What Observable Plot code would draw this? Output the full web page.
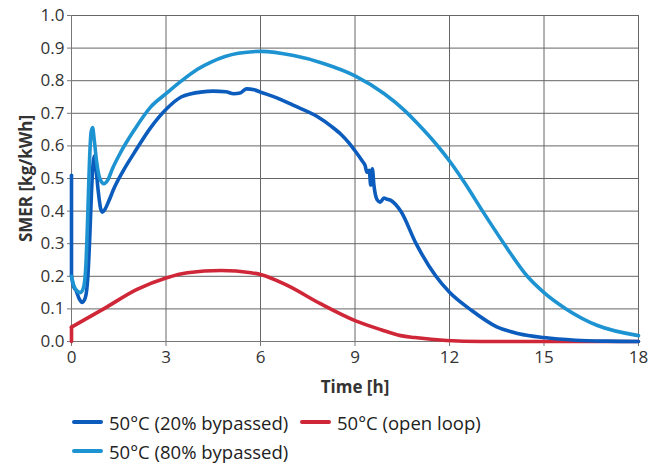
<!DOCTYPE html>
<html>
<head>
<meta charset="utf-8">
<script src="https://cdn.jsdelivr.net/npm/d3@7"></script>
<script src="https://cdn.jsdelivr.net/npm/@observablehq/plot@0.6"></script>
<style>
  body { margin: 0; background: #fff; }
  #chart { position: relative; width: 661px; height: 464px; font-family: "Open Sans", sans-serif; }
  #chart svg { position: absolute; left: 0; top: 0; }
  #chart g[aria-label="x-axis label"] text,
  #chart g[aria-label="y-axis label"] text { font-weight: bold; }
  .legend-item { position: absolute; display: flex; align-items: center; font-size: 18.5px; color: #222; white-space: nowrap; }
  .legend-item .swatch { width: 31px; height: 4px; border-radius: 2px; margin-right: 6px; }
</style>
</head>
<body>
<div id="chart"></div>
<script>
// Time axis [h] and SMER axis [kg/kWh] ticks
const xTicks = [0, 3, 6, 9, 12, 15, 18];
const yTicks = [0, 0.1, 0.2, 0.3, 0.4, 0.5, 0.6, 0.7, 0.8, 0.9, 1.0];

// 50°C (20% bypassed) — the first two samples are the step at start-up
const time20 = [0, 0, 0.06, 0.14, 0.25, 0.34, 0.44, 0.52, 0.58, 0.64, 0.69, 0.73, 0.78, 0.85, 0.92, 0.98, 1.06, 1.18, 1.35, 1.65, 1.98, 2.52, 3.02, 3.48, 3.8, 4.1, 4.5, 4.9, 5.15, 5.35, 5.55, 5.8, 6.0, 6.5, 7.05, 7.8, 8.25, 8.56, 8.8, 9.0, 9.22, 9.32, 9.38, 9.45, 9.5, 9.55, 9.6, 9.7, 9.8, 9.92, 10.0, 10.15, 10.45, 10.94, 11.57, 12.0, 12.68, 13.5, 14.2, 15.0, 16.0, 17.0, 18.0];
const smer20 = [0.51, 0.2, 0.17, 0.157, 0.13, 0.12, 0.135, 0.2, 0.32, 0.47, 0.55, 0.57, 0.53, 0.46, 0.41, 0.397, 0.405, 0.43, 0.47, 0.525, 0.577, 0.657, 0.714, 0.75, 0.76, 0.765, 0.768, 0.766, 0.760, 0.762, 0.775, 0.772, 0.765, 0.748, 0.724, 0.69, 0.66, 0.635, 0.61, 0.585, 0.555, 0.54, 0.519, 0.525, 0.48, 0.53, 0.48, 0.435, 0.427, 0.44, 0.437, 0.432, 0.40, 0.30, 0.20, 0.151, 0.097, 0.045, 0.024, 0.012, 0.004, 0.001, 0];

// 50°C (80% bypassed)
const time80 = [0, 0.08, 0.18, 0.28, 0.38, 0.46, 0.52, 0.57, 0.62, 0.67, 0.72, 0.8, 0.9, 1.03, 1.15, 1.3, 1.56, 1.98, 2.51, 3.0, 3.5, 4.0, 4.43, 5.29, 6.02, 7.05, 8.0, 9.0, 9.93, 10.57, 11.0, 11.58, 12.03, 12.48, 13.05, 13.73, 14.47, 15.0, 15.7, 16.7, 18.0];
const smer80 = [0.2, 0.17, 0.155, 0.15, 0.165, 0.24, 0.4, 0.55, 0.64, 0.656, 0.62, 0.55, 0.5, 0.484, 0.495, 0.53, 0.58, 0.647, 0.719, 0.76, 0.80, 0.835, 0.857, 0.884, 0.89, 0.877, 0.853, 0.815, 0.76, 0.709, 0.667, 0.605, 0.55, 0.487, 0.40, 0.30, 0.20, 0.15, 0.10, 0.049, 0.018];

// 50°C (open loop) — also starts with a step at t = 0
const timeOpen = [0, 0, 1.02, 2.08, 3.0, 3.68, 4.75, 5.7, 6.03, 6.85, 7.9, 9.0, 9.83, 10.45, 10.9, 11.9, 13.0, 18.0];
const smerOpen = [0, 0.044, 0.10, 0.16, 0.195, 0.211, 0.218, 0.211, 0.205, 0.172, 0.116, 0.064, 0.036, 0.018, 0.012, 0.003, 0, 0];

const seriesNames = ["50°C (20% bypassed)", "50°C (open loop)", "50°C (80% bypassed)"];
const seriesColors = ["#0b5cbd", "#cf2738", "#1e93d2"];

const toRows = (ts, vs) => ts.map((t, i) => ({t, v: vs[i]}));
const rows20 = toRows(time20, smer20);
const rows80 = toRows(time80, smer80);
const rowsOpen = toRows(timeOpen, smerOpen);

const lineOpts = (color, curve = "monotone-x") => ({x: "t", y: "v", stroke: color, strokeWidth: 3.6, curve, strokeLinejoin: "round", strokeLinecap: "round"});

const plot = Plot.plot({
  width: 661,
  height: 400,
  marginLeft: 71,
  marginRight: 23,
  marginTop: 15,
  marginBottom: 59,
  style: {fontFamily: "Open Sans, sans-serif", fontSize: "17px", color: "#333", background: "#fff"},
  x: {domain: [0, 18]},
  y: {domain: [0, 1]},
  marks: [
    Plot.gridX(xTicks, {stroke: "#666", strokeOpacity: 1, strokeWidth: 1}),
    Plot.gridY(yTicks, {stroke: "#666", strokeOpacity: 1, strokeWidth: 1}),
    Plot.ruleY([0], {stroke: "#777", strokeWidth: 1}),
    Plot.ruleX([0], {stroke: "#777", strokeWidth: 1}),
    Plot.axisX(xTicks, {tickSize: 5, tickPadding: 4, stroke: "#777", fill: "#333", label: "Time [h]", labelAnchor: "center", labelArrow: "none", labelOffset: 51}),
    Plot.axisY(yTicks, {tickSize: 4, tickPadding: 3, stroke: "#777", fill: "#333", tickFormat: d3.format(".1f"), label: "SMER [kg/kWh]", labelAnchor: "center", labelArrow: "none", labelOffset: 52}),
    // start-up steps drawn straight, the rest as smooth curves
    Plot.line(rowsOpen.slice(0, 2), lineOpts(seriesColors[1], "linear")),
    Plot.line(rowsOpen.slice(1), lineOpts(seriesColors[1])),
    Plot.line(rows20.slice(0, 2), lineOpts(seriesColors[0], "linear")),
    Plot.line(rows20.slice(1), lineOpts(seriesColors[0])),
    Plot.line(rows80, lineOpts(seriesColors[2]))
  ]
});

const chart = document.getElementById("chart");
chart.appendChild(plot);

// Legend below the plot: two items on the first row, one on the second
const legendPos = [
  {left: 72, top: 422},
  {left: 300, top: 422},
  {left: 72, top: 451}
];
seriesNames.forEach((name, i) => {
  const item = document.createElement("div");
  item.className = "legend-item";
  item.style.left = legendPos[i].left + "px";
  item.style.top = (legendPos[i].top - 13) + "px";
  item.style.height = "26px";
  const sw = document.createElement("span");
  sw.className = "swatch";
  sw.style.background = seriesColors[i];
  const label = document.createElement("span");
  label.textContent = name;
  item.appendChild(sw);
  item.appendChild(label);
  chart.appendChild(item);
});
</script>
</body>
</html>
